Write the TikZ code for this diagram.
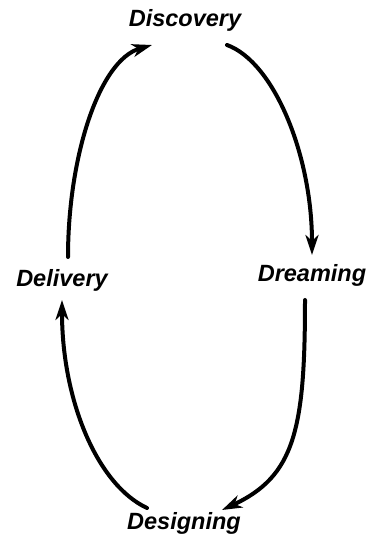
\documentclass[tikz,border=0pt]{standalone}
\usepackage{fontspec}
\setmainfont{Liberation Sans}
\usetikzlibrary{arrows.meta}
\begin{document}
\begin{tikzpicture}[x=1pt,y=1pt,
  phase/.style={inner sep=0pt,anchor=base,font=\fontsize{23.5}{27}\selectfont\bfseries\itshape},
  cyclearrow/.style={line width=4pt,line cap=round,-{Stealth[length=20pt,width=13pt,inset=6pt]}}]
\useasboundingbox (0,0) rectangle (370,541);
\node[phase] (disc) at (185,514) {Discovery};
\node[phase] (dream) at (312,259) {Dreaming};
\node[phase] (design) at (184,11) {Designing};
\node[phase] (deliv) at (62,254) {Delivery};
\draw[cyclearrow] ([shift={(42,-18)}]disc.base) to[out=-20,in=90,out distance=50pt,in distance=100pt] ([shift={(0,27)}]dream.base);
\draw[cyclearrow] ([shift={(-7,-18)}]dream.base) to[out=-90,in=25,out distance=130pt,in distance=80pt] ([shift={(38,20)}]design.base);
\draw[cyclearrow] ([shift={(-37,22)}]design.base) to[out=155,in=-90,out distance=55pt,in distance=100pt] ([shift={(0,-13)}]deliv.base);
\draw[cyclearrow] ([shift={(6,30)}]deliv.base) to[out=90,in=-164,out distance=100pt,in distance=55pt] ([shift={(-33,-18)}]disc.base);
\end{tikzpicture}
\end{document}
